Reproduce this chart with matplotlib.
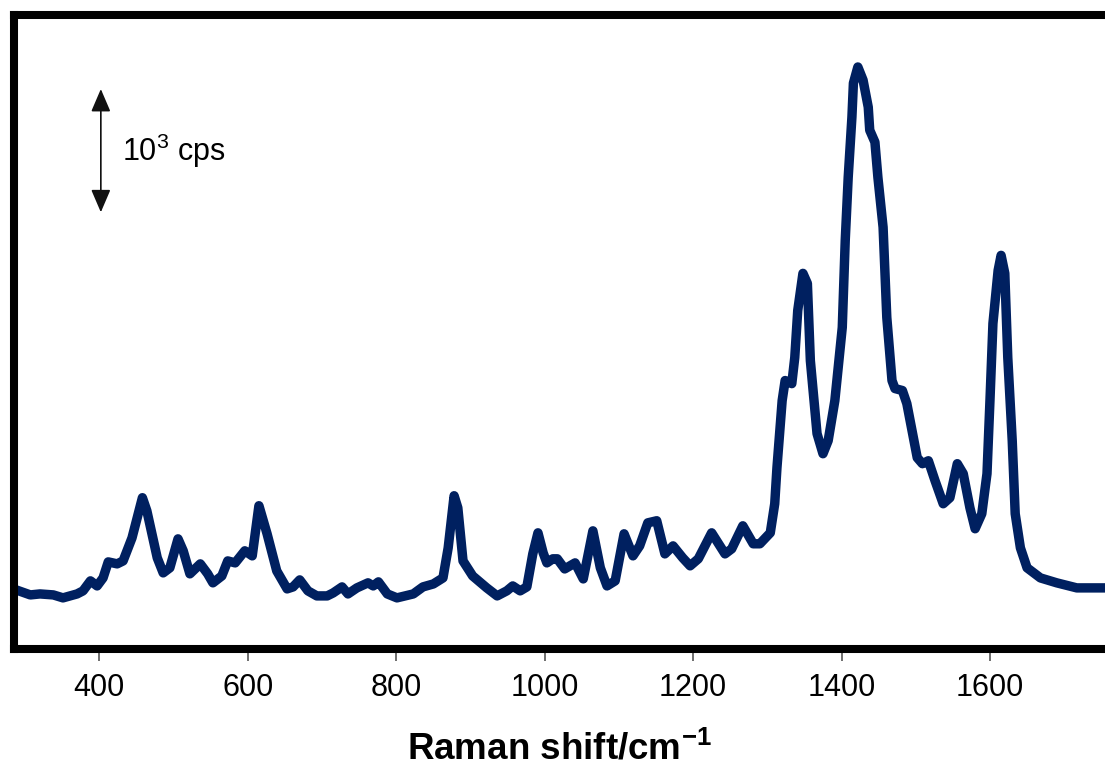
import matplotlib
matplotlib.use("Agg")
import matplotlib.pyplot as plt
from matplotlib.patches import FancyArrowPatch

plt.rcParams['font.family'] = ['Liberation Sans', 'DejaVu Sans']
plt.rcParams['mathtext.fontset'] = 'custom'
plt.rcParams['mathtext.rm'] = 'Liberation Sans'
plt.rcParams['mathtext.it'] = 'Liberation Sans:italic'
plt.rcParams['mathtext.bf'] = 'Liberation Sans:bold'

# Raman shift (cm-1)
wavenumber = [284, 307, 320, 338, 351, 370, 378, 388, 397, 405, 412, 424, 432, 444,
              458, 464, 478, 486, 495, 506, 513, 522, 536, 546, 553, 565, 573, 583,
              596, 606, 615, 626, 639, 653, 661, 670, 681, 693, 707, 715, 727, 735,
              747, 762, 769, 776, 788, 801, 823, 836, 850, 863, 870, 878, 883, 890,
              903, 922, 936, 949, 957, 967, 976, 984, 991, 998, 1003, 1011, 1017,
              1027, 1041, 1052, 1065, 1075, 1084, 1095, 1107, 1119, 1128, 1139, 1151,
              1162, 1173, 1186, 1196, 1207, 1225, 1243, 1252, 1267, 1281, 1290, 1304,
              1310, 1313, 1320, 1324, 1333, 1337, 1341, 1348, 1354, 1358, 1367, 1375,
              1382, 1391, 1401, 1405, 1409, 1414, 1416, 1422, 1429, 1436, 1438, 1445,
              1449, 1456, 1461, 1468, 1472, 1482, 1488, 1495, 1502, 1509, 1517, 1526,
              1537, 1546, 1556, 1564, 1573, 1580, 1589, 1596, 1600, 1604, 1611, 1615,
              1620, 1624, 1630, 1634, 1641, 1650, 1668, 1690, 1717, 1755]
# intensity (cps)
intensity = [488, 439, 447, 439, 415, 447, 472, 553, 512, 577, 707, 691, 715, 902,
             1228, 1122, 740, 618, 659, 894, 797, 610, 691, 610, 537, 593, 715, 699,
             797, 756, 1163, 935, 634, 488, 504, 561, 472, 431, 431, 455, 504, 447,
             496, 537, 512, 545, 447, 415, 447, 504, 528, 577, 821, 1244, 1146, 715,
             593, 496, 431, 472, 512, 472, 504, 772, 943, 780, 699, 732, 732,
             650, 699, 569, 959, 659, 512, 553, 935, 756, 837, 1024, 1041,
             772, 837, 740, 675, 732, 943, 772, 813, 1000, 854, 854, 943,
             1179, 1472, 2016, 2179, 2154, 2366, 2748, 3049, 2967, 2341, 1748, 1585,
             1691, 2016, 2610, 3317, 3829, 4317, 4593, 4724, 4618, 4398, 4211, 4114,
             3829, 3423, 2691, 2179, 2114, 2098, 1992, 1772, 1553, 1504, 1528, 1366,
             1179, 1228, 1504, 1423, 1146, 976, 1098, 1423, 2016, 2642, 3073, 3195,
             3049, 2366, 1691, 1098, 821, 659, 577, 537, 496, 496]

xticks = [400, 600, 800, 1000, 1200, 1400, 1600]
scale_bar_cps = 1000

fig = plt.figure(figsize=(11.05, 7.70), dpi=100)
ax = fig.add_axes([14/1105, 121/770, 1091/1105, 634/770])

ax.plot(wavenumber, intensity, color='#002060', lw=6.8,
        solid_joinstyle='round', solid_capstyle='round')

ax.set_xlim(285, 1755)
ax.set_ylim(0, 5146)
ax.set_yticks([])
ax.set_xticks(xticks)
ax.set_xticklabels([str(t) for t in xticks])
ax.tick_params(axis='x', direction='out', length=8.5, width=1.2, color='#555555',
               pad=9, labelsize=22)

for s in ['left', 'top', 'bottom']:
    ax.spines[s].set_linewidth(5.8)
    ax.spines[s].set_color('black')
    ax.spines[s].set_capstyle('projecting')
    ax.spines[s].set_zorder(3)
ax.spines['right'].set_visible(False)

ax.set_xlabel(r'Raman shift/cm$^{\mathbf{-1}}$', fontsize=26.5, fontweight='bold',
              labelpad=20)

# scale bar arrow
x_bar = 402
y0 = 3545
arr = FancyArrowPatch((x_bar, y0), (x_bar, y0 + scale_bar_cps),
                      arrowstyle='<|-|>,head_length=0.7,head_width=0.3',
                      mutation_scale=20, color='#111111', lw=1.2,
                      shrinkA=0, shrinkB=0)
ax.add_patch(arr)
ax.text(431, y0 + scale_bar_cps / 2, r'10$^{3}$ cps', fontsize=22,
        va='center', ha='left')

fig.savefig('out.png', dpi=100)
